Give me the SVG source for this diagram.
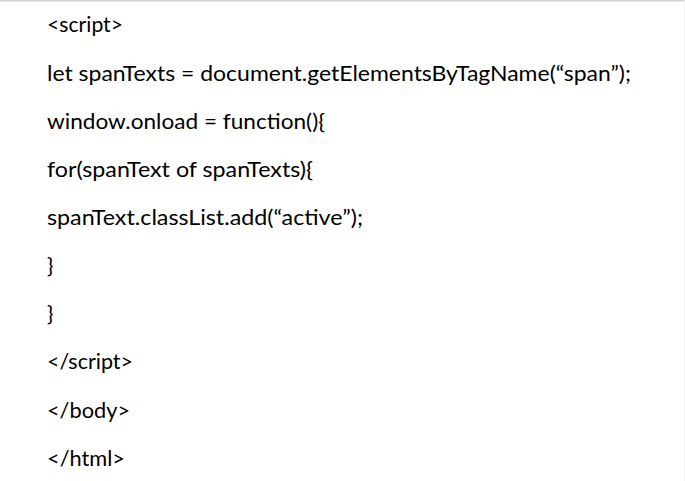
<svg xmlns="http://www.w3.org/2000/svg" width="685" height="481" viewBox="0 0 685 481">
<style>
.t{font-family:Lato,"Open Sans","Liberation Sans",sans-serif;font-size:21.5px;fill:#000}
</style>
<rect x="0" y="0" width="685" height="481" fill="#ffffff"/>
<line x1="0" y1="0.8" x2="685" y2="0.8" stroke="#cfd2d8" stroke-width="1.6"/>
<line x1="684.5" y1="0" x2="684.5" y2="481" stroke="#f0f0f0" stroke-width="1"/>
<g id="code">
<text class="t" x="47" y="32" textLength="76" lengthAdjust="spacingAndGlyphs">&lt;script&gt;</text>
<text class="t" x="47" y="80.5" textLength="584" lengthAdjust="spacingAndGlyphs">let spanTexts = document.getElementsByTagName(“span”);</text>
<text class="t" x="47" y="128.5" textLength="278" lengthAdjust="spacingAndGlyphs">window.onload = function(){</text>
<text class="t" x="47" y="177" textLength="266" lengthAdjust="spacingAndGlyphs">for(spanText of spanTexts){</text>
<text class="t" x="47" y="225" textLength="316" lengthAdjust="spacingAndGlyphs">spanText.classList.add(“active”);</text>
<text class="t" x="47" y="273">}</text>
<text class="t" x="47" y="321">}</text>
<text class="t" x="47" y="369" textLength="86" lengthAdjust="spacingAndGlyphs">&lt;/script&gt;</text>
<text class="t" x="47" y="417.5" textLength="83" lengthAdjust="spacingAndGlyphs">&lt;/body&gt;</text>
<text class="t" x="47" y="466" textLength="78" lengthAdjust="spacingAndGlyphs">&lt;/html&gt;</text>
</g>
</svg>
